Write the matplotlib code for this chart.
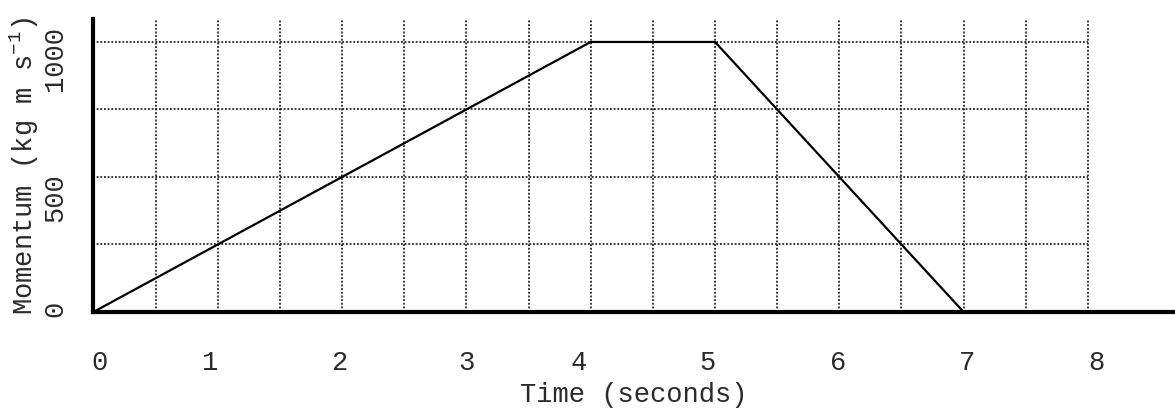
import matplotlib
matplotlib.use("Agg")
import matplotlib.pyplot as plt

# data
time_s = [0, 4, 5, 7]
momentum = [0, 1000, 1000, 0]

x_grid = [0.5, 1, 1.5, 2, 2.5, 3, 3.5, 4, 4.5, 5, 5.5, 6, 6.5, 7, 7.5, 8]
y_grid = [250, 500, 750, 1000]

x_labels = ["0", "1", "2", "3", "4", "5", "6", "7", "8"]
x_label_pos = [0.05, 0.94, 1.975, 3.0, 3.9, 4.94, 5.99, 7.03, 8.07]
y_labels = ["0", "500", "1000"]
y_label_pos = [15, 428, 941]

plt.rcParams['font.family'] = ['Liberation Mono', 'DejaVu Sans']
plt.rcParams['mathtext.fontset'] = 'custom'
plt.rcParams['mathtext.rm'] = 'Liberation Mono'
plt.rcParams['mathtext.it'] = 'Liberation Mono'

fig = plt.figure(figsize=(11.75, 4.10), dpi=100)
ax = fig.add_axes([0.0795, 0.2366, 0.9205, 0.7146])

ax.set_xlim(0, 8.70)
ax.set_ylim(0, 1085)

# dotted grid, only up to x = 8
dots = (0, (1.2, 1.2))
ax.hlines(y_grid, 0, 8, colors='black', linestyles=[dots], linewidth=1.1, zorder=1)
ax.vlines(x_grid, 0, 1085, colors='black', linestyles=[dots], linewidth=1.1, zorder=1)

ax.plot(time_s, momentum, color='black', linewidth=1.6, zorder=2, clip_on=False)

for s in ['top', 'right']:
    ax.spines[s].set_visible(False)
for s in ['left', 'bottom']:
    ax.spines[s].set_linewidth(3.0)
    ax.spines[s].set_zorder(3)

fs = 19.5
txt = '#2a2a2a'
ax.set_xticks(x_label_pos)
ax.set_xticklabels(x_labels, fontsize=fs, color=txt)
ax.set_yticks(y_label_pos)
ax.set_yticklabels(y_labels, fontsize=fs, color=txt, rotation=90, va='center')
ax.tick_params(axis='x', length=0, pad=27)
ax.tick_params(axis='y', length=0, pad=18)

ax.set_xlabel("Time (seconds)", fontsize=fs, color=txt, labelpad=4)
ax.set_ylabel("Momentum (kg m s$^{-1}$)", fontsize=fs, color=txt, labelpad=1)

fig.savefig("out.png", dpi=100)
